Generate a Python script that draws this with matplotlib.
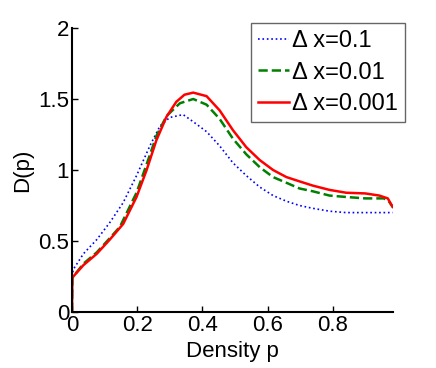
import numpy as np
import matplotlib.pyplot as plt

plt.rcParams['font.family'] = ['Liberation Sans', 'DejaVu Sans']

# dx = 0.1
p_a = [0, 0.001, 0.004, 0.035, 0.076, 0.116, 0.157, 0.198, 0.239, 0.27, 0.30,
       0.341, 0.372, 0.413, 0.453, 0.494, 0.535, 0.576, 0.617, 0.658, 0.698,
       0.739, 0.79, 0.841, 0.90, 0.984]
d_a = [0, 0.26, 0.30, 0.41, 0.51, 0.63, 0.77, 0.96, 1.17, 1.31, 1.37,
       1.39, 1.34, 1.27, 1.17, 1.05, 0.96, 0.88, 0.82, 0.78, 0.75,
       0.73, 0.71, 0.70, 0.70, 0.70]

# dx = 0.01
p_b = [0, 0.001, 0.004, 0.035, 0.076, 0.116, 0.147, 0.198, 0.229, 0.259, 0.29,
       0.331, 0.372, 0.413, 0.453, 0.494, 0.535, 0.576, 0.617, 0.658, 0.698,
       0.739, 0.79, 0.841, 0.90, 0.957, 0.972, 0.984]
d_b = [0, 0.24, 0.25, 0.34, 0.42, 0.52, 0.60, 0.84, 1.04, 1.24, 1.38,
       1.47, 1.50, 1.46, 1.36, 1.22, 1.11, 1.02, 0.95, 0.91, 0.87,
       0.85, 0.82, 0.81, 0.80, 0.80, 0.78, 0.74]

# dx = 0.001
p_c = [0, 0.001, 0.004, 0.035, 0.076, 0.116, 0.157, 0.198, 0.229, 0.259, 0.29,
       0.32, 0.345, 0.372, 0.413, 0.453, 0.494, 0.535, 0.576, 0.617, 0.658,
       0.698, 0.739, 0.79, 0.841, 0.90, 0.943, 0.969, 0.984]
d_c = [0, 0.24, 0.25, 0.33, 0.41, 0.51, 0.62, 0.81, 1.00, 1.21, 1.375,
       1.48, 1.53, 1.545, 1.52, 1.42, 1.28, 1.16, 1.07, 1.00, 0.95,
       0.92, 0.89, 0.86, 0.84, 0.835, 0.82, 0.80, 0.74]

labels = ['\u0394 x=0.1', '\u0394 x=0.01', '\u0394 x=0.001']

fig = plt.figure(figsize=(4.36, 3.68), dpi=100)
ax = fig.add_axes([72/436, 56/368, 321/436, 284/368])

ax.plot(p_a, d_a, color='b', ls=':', lw=1.2, label=labels[0])
ax.plot(p_b, d_b, color=(0, 0.5, 0), ls='--', lw=1.8, label=labels[1])
ax.plot(p_c, d_c, color='r', ls='-', lw=1.8, label=labels[2])

ax.set_xlim(0, 0.985)
ax.set_ylim(0, 2)
ax.set_xticks([0, 0.2, 0.4, 0.6, 0.8])
ax.set_xticklabels(['0', '0.2', '0.4', '0.6', '0.8'])
ax.set_yticks([0, 0.5, 1, 1.5, 2])
ax.set_yticklabels(['0', '0.5', '1', '1.5', '2'])
ax.tick_params(direction='in', length=4, width=1, labelsize=16, pad=2)
for s in ['top', 'right']:
    ax.spines[s].set_visible(False)
for s in ['left', 'bottom']:
    ax.spines[s].set_linewidth(1.5)

ax.set_xlabel('Density p', fontsize=16, labelpad=4)
ax.set_ylabel('D(p)', fontsize=16, labelpad=4)

leg = ax.legend(loc='upper right', bbox_to_anchor=(405/436, 1 - 23/368),
                bbox_transform=fig.transFigure, borderaxespad=0,
                fontsize=17, handlelength=1.3, handletextpad=0.15,
                labelspacing=0.4, borderpad=0.3, fancybox=False,
                framealpha=1)
leg.get_frame().set_edgecolor('0.4')

fig.savefig('out.png', dpi=100)
